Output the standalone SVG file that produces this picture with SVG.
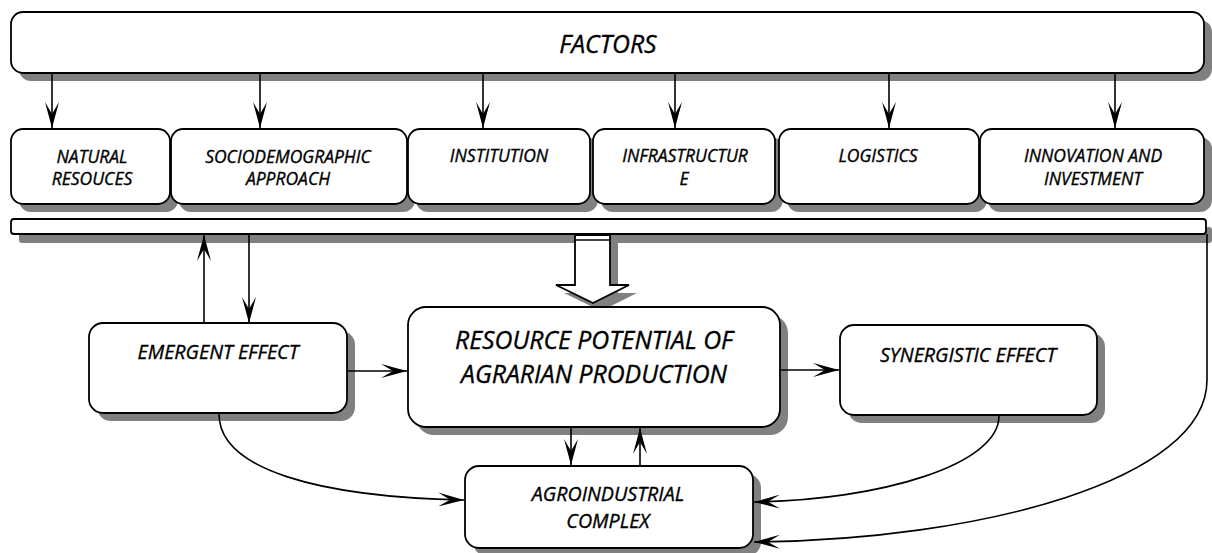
<svg xmlns="http://www.w3.org/2000/svg" width="1212" height="553" viewBox="0 0 1212 553">
<style>
.sh{fill:#808080;stroke:none}
.bx{fill:#fff;stroke:#000;stroke-width:1.8}
.t{font-family:"Open Sans","DejaVu Sans",sans-serif;font-style:italic;font-size:17.5px;text-anchor:middle;fill:#000;stroke:#000;stroke-width:0.35}
.tm{font-size:19.7px}
.tl{font-size:24.8px}
.c{fill:none;stroke:#000;stroke-width:1.6}
</style>
<defs>
<marker id="ah" viewBox="0 0 26 14" markerWidth="26" markerHeight="14" refX="26" refY="7" orient="auto" markerUnits="userSpaceOnUse">
<path d="M26,7 L0,0 L12,7 L0,14 Z" fill="#000"/>
</marker>
</defs>
<g id="shadows">
<rect class="sh" x="19" y="20" width="1193" height="61" rx="12"/>
<rect class="sh" x="19" y="137" width="159" height="75" rx="12"/>
<rect class="sh" x="179" y="137" width="236" height="75" rx="12"/>
<rect class="sh" x="416" y="137" width="182" height="75" rx="12"/>
<rect class="sh" x="601" y="137" width="182" height="75" rx="12"/>
<rect class="sh" x="787" y="137" width="200" height="75" rx="12"/>
<rect class="sh" x="988" y="137" width="224" height="75" rx="12"/>
<rect class="sh" x="19" y="227" width="1193" height="16" rx="3"/>
<path class="sh" d="M583,243 L618,243 L618,293 L637,293 L601,311 L564,293 L583,293 Z"/>
<rect class="sh" x="97" y="331" width="258" height="90" rx="14"/>
<rect class="sh" x="416" y="315" width="372" height="120" rx="18"/>
<rect class="sh" x="848" y="333" width="257" height="90" rx="14"/>
<rect class="sh" x="473" y="474" width="288" height="82" rx="14"/>
</g>
<g id="factors"><rect class="bx" x="11" y="12" width="1193" height="61" rx="12"/><text class="t tl" x="608" y="53">FACTORS</text></g>
<g id="natural"><rect class="bx" x="11" y="129" width="159" height="75" rx="12"/><text class="t" x="92" y="163">NATURAL</text><text class="t" x="92" y="185">RESOUCES</text></g>
<g id="socio"><rect class="bx" x="171" y="129" width="236" height="75" rx="12"/><text class="t" x="288" y="163">SOCIODEMOGRAPHIC</text><text class="t" x="288" y="185">APPROACH</text></g>
<g id="institution"><rect class="bx" x="408" y="129" width="182" height="75" rx="12"/><text class="t" x="499" y="162">INSTITUTION</text></g>
<g id="infrastructure"><rect class="bx" x="593" y="129" width="182" height="75" rx="12"/><text class="t" x="685" y="162">INFRASTRUCTUR</text><text class="t" x="684" y="185">E</text></g>
<g id="logistics"><rect class="bx" x="779" y="129" width="200" height="75" rx="12"/><text class="t" x="878" y="162">LOGISTICS</text></g>
<g id="innovation"><rect class="bx" x="980" y="129" width="224" height="75" rx="12"/><text class="t" x="1093" y="162">INNOVATION AND</text><text class="t" x="1093" y="185">INVESTMENT</text></g>
<g id="bar"><rect class="bx" x="11" y="219" width="1195" height="15" rx="3"/></g>
<g id="blockarrow"><path class="bx" d="M575,235 L610,235 L610,285 L629,285 L593,303 L556,285 L575,285 Z"/><line x1="575" y1="240" x2="610" y2="240" stroke="#000" stroke-width="1.5"/></g>
<g id="emergent"><rect class="bx" x="89" y="323" width="258" height="90" rx="14"/><text class="t tm" x="218" y="359">EMERGENT EFFECT</text></g>
<g id="resource"><rect class="bx" x="408" y="307" width="372" height="120" rx="18"/><text class="t tl" x="594" y="349">RESOURCE POTENTIAL OF</text><text class="t tl" x="594" y="383">AGRARIAN PRODUCTION</text></g>
<g id="synergistic"><rect class="bx" x="840" y="325" width="257" height="90" rx="14"/><text class="t tm" x="968" y="362">SYNERGISTIC EFFECT</text></g>
<g id="agro"><rect class="bx" x="465" y="466" width="288" height="82" rx="14"/><text class="t tm" x="608" y="501">AGROINDUSTRIAL</text><text class="t tm" x="608" y="528">COMPLEX</text></g>
<g id="connectors">
<path class="c" marker-end="url(#ah)" d="M52,74 L52,128"/>
<path class="c" marker-end="url(#ah)" d="M260,74 L260,128"/>
<path class="c" marker-end="url(#ah)" d="M483,74 L483,128"/>
<path class="c" marker-end="url(#ah)" d="M675,74 L675,128"/>
<path class="c" marker-end="url(#ah)" d="M889,74 L889,128"/>
<path class="c" marker-end="url(#ah)" d="M1115,74 L1115,128"/>
<path class="c" marker-end="url(#ah)" d="M204,323 L204,235"/>
<path class="c" marker-end="url(#ah)" d="M249,235 L249,323"/>
<path class="c" marker-end="url(#ah)" d="M348,371 L407,371"/>
<path class="c" marker-end="url(#ah)" d="M781,370 L839,370"/>
<path class="c" marker-end="url(#ah)" d="M571,428 L571,465"/>
<path class="c" marker-end="url(#ah)" d="M640,466 L640,428"/>
<path class="c" marker-end="url(#ah)" d="M219,414 C219,470 320,497 464,500"/>
<path class="c" marker-end="url(#ah)" d="M999,416 C999,465 880,500 754,502"/>
<path class="c" marker-end="url(#ah)" d="M1207,234 L1207,380 C1207,480 980,540 754,542"/>
</g>
</svg>
